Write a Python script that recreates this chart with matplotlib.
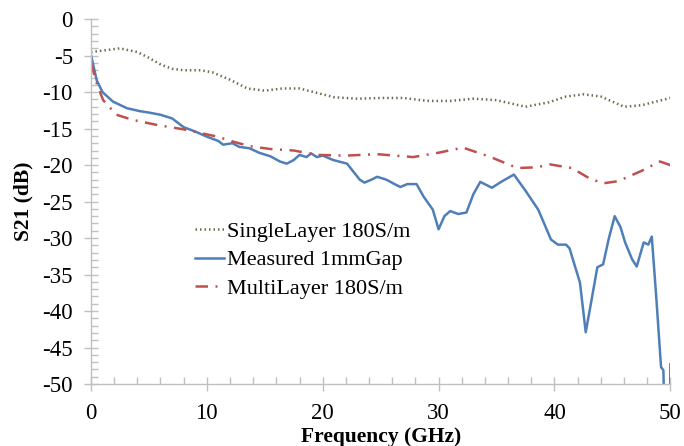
import matplotlib
matplotlib.use("Agg")
import matplotlib.pyplot as plt
from matplotlib.ticker import MultipleLocator

plt.rcParams['font.family'] = ['Liberation Serif', 'DejaVu Serif']
plt.rcParams['axes.unicode_minus'] = False

# SingleLayer 180S/m (dotted)
single_f = [0, 1, 2.5, 4, 5, 6, 7, 8, 9.5, 10.5, 12, 13.5, 15, 16.5, 18, 19.5, 21, 23,
            25, 27, 29, 31, 33, 35, 37.5, 39.5, 41, 42.5, 44, 46, 47.5, 50]
single_db = [-4.5, -4.3, -4.0, -4.5, -5.3, -6.2, -6.8, -7.0, -7.0, -7.3, -8.3, -9.5, -9.8,
             -9.5, -9.5, -10.1, -10.7, -10.9, -10.8, -10.8, -11.2, -11.2, -10.9, -11.1,
             -12.0, -11.4, -10.6, -10.3, -10.6, -12.0, -11.8, -10.8]

# Measured 1mmGap (solid)
meas_f = [0, 0.5, 1.0, 1.9, 3.1, 4.2, 5.0, 6.0, 7.0, 8.0, 9.0, 10.0, 11.0, 11.4, 12.2,
          12.8, 13.7, 14.5, 15.5, 16.3, 16.9, 17.5, 18.0, 18.6, 19.0, 19.5, 20.0, 20.9,
          22.1, 22.7, 23.2, 23.6, 24.2, 24.7, 25.5, 26.2, 26.7, 27.3, 28.1, 28.7, 29.5,
          30.0, 30.5, 31.0, 31.7, 32.4, 33.0, 33.6, 34.6, 35.5, 36.5, 37.5, 38.6, 39.7,
          40.3, 41.0, 41.3, 42.2, 42.7, 43.2, 43.7, 44.2, 44.7, 45.2, 45.7, 46.1, 46.7,
          47.1, 47.7, 48.1, 48.4, 48.8, 49.2, 49.4, 49.55, 49.98, 50.0]
meas_db = [-4.9, -8.4, -10.0, -11.3, -12.2, -12.6, -12.8, -13.1, -13.6, -14.8, -15.4,
           -16.1, -16.7, -17.2, -17.0, -17.5, -17.7, -18.3, -18.8, -19.5, -19.8, -19.3,
           -18.6, -18.9, -18.4, -18.9, -18.7, -19.3, -19.8, -21.0, -22.0, -22.4, -22.0,
           -21.6, -22.0, -22.6, -23.0, -22.6, -22.6, -24.3, -26.1, -28.8, -27.0, -26.3,
           -26.7, -26.5, -24.0, -22.3, -23.1, -22.2, -21.3, -23.5, -26.1, -30.2, -30.9,
           -30.9, -31.4, -36.1, -42.9, -38.5, -34.0, -33.6, -30.0, -27.0, -28.5, -30.6,
           -32.9, -33.9, -30.6, -30.9, -29.8, -38.4, -47.7, -48.1, -58.0, -58.0, -47.3]

# MultiLayer 180S/m (dash-dot)
multi_f = [0, 0.5, 1.05, 2.2, 3.6, 5.7, 8.0, 10.9, 12.3, 13.7, 15.5, 17.5, 19.5, 22.0,
           24.7, 27.8, 30.0, 32.1, 34.5, 36.8, 38.5, 39.6, 41.5, 43.0, 44.2, 45.5, 47.5,
           49.1, 50.0]
multi_db = [-6.0, -8.8, -11.1, -13.1, -13.8, -14.5, -15.1, -16.1, -16.8, -17.4, -17.8,
            -18.0, -18.6, -18.7, -18.5, -18.9, -18.3, -17.6, -18.9, -20.4, -20.3, -19.9,
            -20.4, -21.8, -22.5, -22.2, -20.8, -19.5, -20.0]

fig = plt.figure(figsize=(6.84, 4.46), dpi=100)
ax = fig.add_axes([0.133, 0.139, 0.847, 0.818])

ax.plot(single_f, single_db, color='#6b6b4c', lw=1.8, linestyle=(0, (0.6, 1.2)),
        label='SingleLayer 180S/m')
ax.plot(meas_f, meas_db, color='#4f7fb8', lw=1.8, label='Measured 1mmGap')
ax.plot(multi_f, multi_db, color='#c0504d', lw=1.8, linestyle=(0, (5, 3, 0.8, 3)),
        label='MultiLayer 180S/m')

ax.set_xlim(0, 50)
ax.set_ylim(-50, 0)
ax.xaxis.set_major_locator(MultipleLocator(10))
ax.xaxis.set_minor_locator(MultipleLocator(2))
ax.yaxis.set_major_locator(MultipleLocator(5))
ax.yaxis.set_minor_locator(MultipleLocator(1))

for s in ['top', 'right']:
    ax.spines[s].set_visible(False)
for s in ['left', 'bottom']:
    ax.spines[s].set_color('#c0c0c0')
    ax.spines[s].set_linewidth(1.0)

ax.tick_params(which='major', direction='inout', length=10, width=1, color='#c0c0c0',
               labelsize=16.5)
ax.tick_params(axis='x', which='major', pad=9)
ax.tick_params(axis='y', which='major', pad=8)
ax.tick_params(which='minor', direction='in', length=5, width=1, color='#c0c0c0')

ax.set_xlabel('Frequency (GHz)', fontsize=15.5, fontweight='bold', labelpad=2)
ax.set_ylabel('S21 (dB)', fontsize=15.5, fontweight='bold', labelpad=6)

leg = ax.legend(loc='upper left', bbox_to_anchor=(0.165, 0.47), frameon=False,
                fontsize=16, handlelength=1.3, handletextpad=0.1, labelspacing=0.35,
                borderaxespad=0)

fig.savefig('out.png', dpi=100)
